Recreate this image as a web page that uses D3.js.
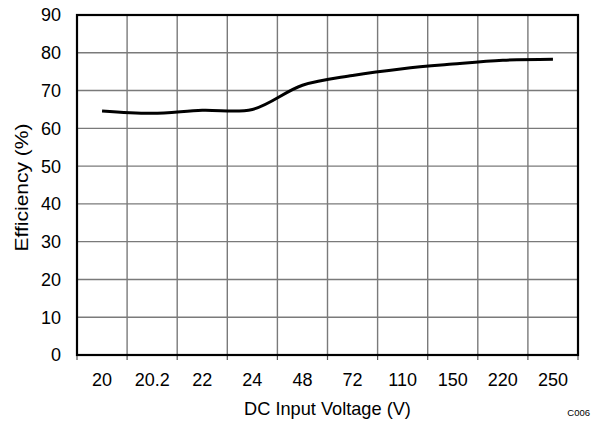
<!DOCTYPE html>
<html>
<head>
<meta charset="utf-8">
<script src="https://cdn.jsdelivr.net/npm/d3@7"></script>
<style>
  html, body { margin: 0; padding: 0; background: #fff; }
  svg { display: block; font-family: "Liberation Sans", Arial, sans-serif; }
</style>
</head>
<body>
<svg id="chart" width="594" height="423"></svg>
<script>
// Input voltage categories (V) and measured efficiency (%)
const voltages = ["20", "20.2", "22", "24", "48", "72", "110", "150", "220", "250"];
const efficiency = [64.6, 64.0, 64.8, 65.0, 71.4, 74.0, 75.8, 77.0, 78.0, 78.3];
const yTicks = [0, 10, 20, 30, 40, 50, 60, 70, 80, 90];

const margin = { left: 77, right: 16, top: 15, bottom: 68 };
const W = 594, H = 423;
const svg = d3.select("#chart");

const x = d3.scaleBand().domain(voltages).range([margin.left, W - margin.right]).padding(0);
const y = d3.scaleLinear().domain([0, 90]).range([H - margin.bottom, margin.top]);

const x0 = margin.left, x1 = W - margin.right;
const y0 = H - margin.bottom, y1 = margin.top;

// Grid
const grid = svg.append("g").attr("stroke", "#7a7a7a").attr("stroke-width", 1.4);
grid.selectAll("line.h").data(yTicks).join("line")
  .attr("x1", x0).attr("x2", x1)
  .attr("y1", d => y(d)).attr("y2", d => y(d));
grid.selectAll("line.v").data(voltages.slice(1)).join("line")
  .attr("x1", d => x(d)).attr("x2", d => x(d))
  .attr("y1", y1).attr("y2", y0);

// Tick marks under the x axis at band boundaries
const bounds = voltages.map(d => x(d)).concat([x1]);
svg.append("g").attr("stroke", "#555").attr("stroke-width", 1.2)
  .selectAll("line").data(bounds).join("line")
  .attr("x1", d => d).attr("x2", d => d)
  .attr("y1", y0).attr("y2", y0 + 5);

// Plot frame
svg.append("rect")
  .attr("x", x0).attr("y", y1)
  .attr("width", x1 - x0).attr("height", y0 - y1)
  .attr("fill", "none").attr("stroke", "#000").attr("stroke-width", 2.2);

// Efficiency curve
const line = d3.line()
  .x((d, i) => x(voltages[i]) + x.bandwidth() / 2)
  .y(d => y(d))
  .curve(d3.curveCatmullRom.alpha(0.5));
svg.append("path")
  .datum(efficiency)
  .attr("d", line)
  .attr("fill", "none")
  .attr("stroke", "#000")
  .attr("stroke-width", 3)
  .attr("stroke-linecap", "butt");

// Y tick labels
svg.append("g").selectAll("text").data(yTicks).join("text")
  .attr("x", 61).attr("y", d => y(d))
  .attr("dy", "0.36em")
  .attr("text-anchor", "end")
  .attr("font-size", 18)
  .attr("fill", "#000")
  .text(d => d);

// X tick labels
svg.append("g").selectAll("text").data(voltages).join("text")
  .attr("x", d => x(d) + x.bandwidth() / 2)
  .attr("y", 386)
  .attr("text-anchor", "middle")
  .attr("font-size", 18)
  .attr("fill", "#000")
  .text(d => d);

// Axis titles
svg.append("text")
  .attr("x", (x0 + x1) / 2).attr("y", 415)
  .attr("text-anchor", "middle")
  .attr("font-size", 18.2)
  .text("DC Input Voltage (V)");

svg.append("text")
  .attr("transform", "translate(28, 187.5) rotate(-90)")
  .attr("text-anchor", "middle")
  .attr("font-size", 18.5)
  .attr("textLength", 128)
  .attr("lengthAdjust", "spacingAndGlyphs")
  .text("Efficiency (%)");

// Figure code
svg.append("text")
  .attr("x", 590).attr("y", 416)
  .attr("text-anchor", "end")
  .attr("font-size", 9.5)
  .text("C006");
</script>
</body>
</html>
